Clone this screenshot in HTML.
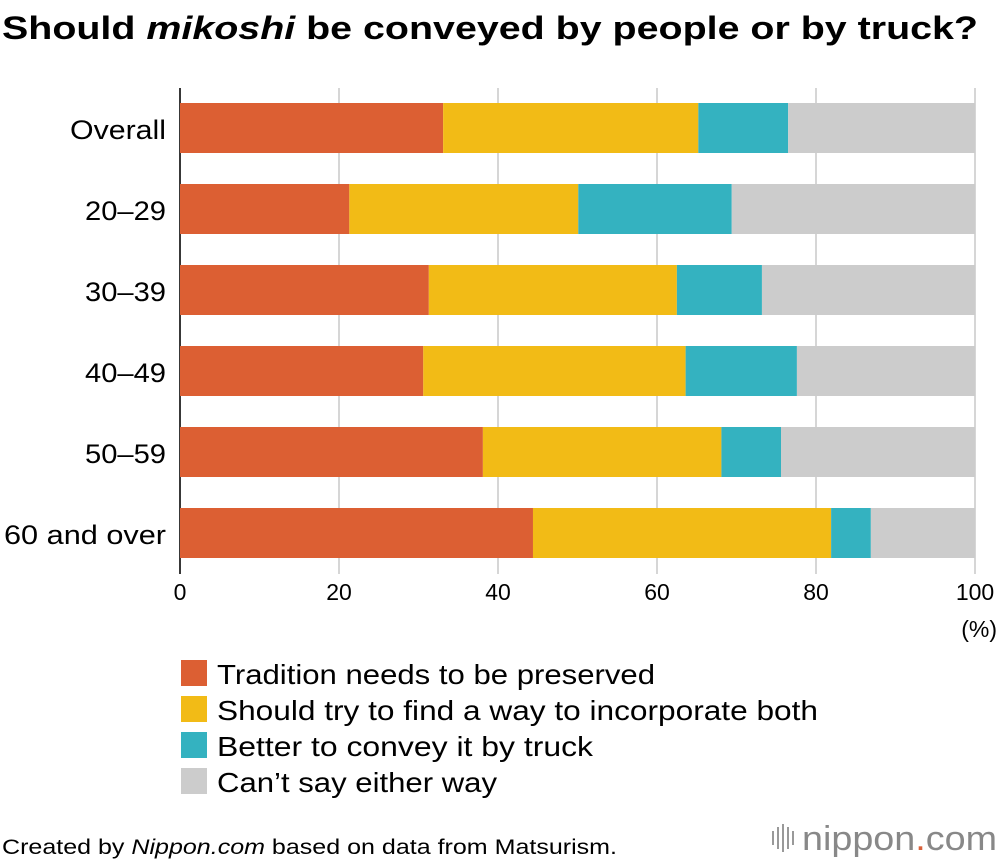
<!DOCTYPE html>
<html><head><meta charset="utf-8"><style>
body{margin:0;background:#fff;font-family:"Liberation Sans",sans-serif;}
svg{display:block}
</style></head><body>
<svg width="1000" height="862" viewBox="0 0 1000 862">
<text x="2" y="39" font-size="32" font-weight="bold" fill="#000" textLength="976" lengthAdjust="spacingAndGlyphs">Should <tspan font-style="italic">mikoshi</tspan> be conveyed by people or by truck?</text>
<g id="grid"></g>
<g id="bars"></g>
<g id="ylabels"></g>
<g id="xticks"></g>
<text x="997" y="637" font-size="23" text-anchor="end">(%)</text>
<g id="legend"></g>
<text x="2" y="854" font-size="21" textLength="615" lengthAdjust="spacingAndGlyphs">Created by <tspan font-style="italic">Nippon.com</tspan> based on data from Matsurism.</text>
<g>
<rect x="772" y="831" width="2" height="14" fill="#999"/><rect x="777" y="827" width="2" height="22" fill="#999"/><rect x="782" y="824" width="2" height="28" fill="#999"/><rect x="787" y="827" width="2" height="22" fill="#999"/><rect x="792" y="831" width="2" height="14" fill="#999"/>
<text x="802" y="850" font-size="34" fill="#888" textLength="195" lengthAdjust="spacingAndGlyphs">nippon<tspan fill="#d9603a">.</tspan>com</text>
</g>
</svg>
<script>
const categories=["Overall","20–29","30–39","40–49","50–59","60 and over"];
const tradition=[33.1,21.3,31.3,30.6,38.1,44.4];
const both=[32.1,28.8,31.2,33.0,30.0,37.5];
const truck=[11.3,19.3,10.7,14.0,7.5,5.0];
const cantSay=[23.5,30.6,26.8,22.4,24.4,13.1];
const xTicks=[0,20,40,60,80,100];
const seriesNames=["Tradition needs to be preserved","Should try to find a way to incorporate both","Better to convey it by truck","Can’t say either way"];
const legendWidths=[438,601,376,280];
const labelWidths=[96,81,81,81,81,162];
const colors=["#dc5f33","#f2bb16","#34b2c0","#cccccc"];
const NS="http://www.w3.org/2000/svg";
const x=v=>180+v*7.95;
const yTop=i=>103+i*81;
function mk(t,a,p){const e=document.createElementNS(NS,t);for(const k in a)e.setAttribute(k,a[k]);p.appendChild(e);return e;}
const grid=document.getElementById('grid'),bars=document.getElementById('bars'),yl=document.getElementById('ylabels'),xt=document.getElementById('xticks'),lg=document.getElementById('legend');
xTicks.forEach(t=>{
 const l=mk('line',{x1:x(t),x2:x(t),y1:88,y2:574,stroke:'#c8c8c8','stroke-width':1.5},grid);
 
 
 const tx=mk('text',{x:x(t),y:600,'font-size':23,'text-anchor':'middle'},xt);tx.textContent=t;
 
 
});
const series=[tradition,both,truck,cantSay];
categories.forEach((c,i)=>{
 let acc=0;
 series.forEach((s,j)=>{
  const r=mk('rect',{x:x(acc),y:yTop(i),width:x(acc+s[i])-x(acc),height:50,fill:colors[j]},bars);
  
  
  acc+=s[i];
 });
 const t=mk('text',{x:166,y:yTop(i)+36,'font-size':27,'text-anchor':'end',textLength:labelWidths[i],lengthAdjust:'spacingAndGlyphs'},yl);t.textContent=c;
 
 
});
mk('line',{x1:180,x2:180,y1:88,y2:574,stroke:'#000','stroke-width':1.5},grid);
seriesNames.forEach((n,j)=>{
 const g=mk('g',{},lg);
 
 
 mk('rect',{x:181,y:660+j*36,width:26,height:26,fill:colors[j]},g);
 const t=mk('text',{x:217,y:684+j*36,'font-size':28,textLength:legendWidths[j],lengthAdjust:'spacingAndGlyphs'},g);t.textContent=n;
});
</script>
</body></html>
